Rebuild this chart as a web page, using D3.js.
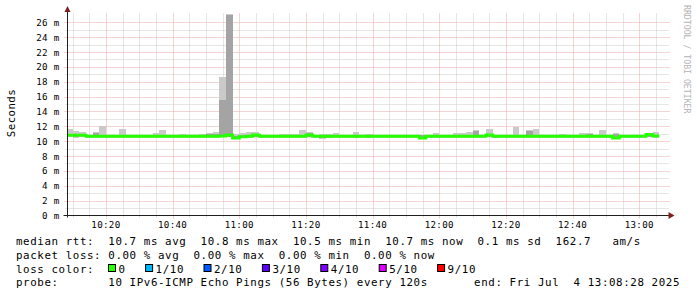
<!DOCTYPE html>
<html>
<head>
<meta charset="utf-8">
<script src="https://cdn.jsdelivr.net/npm/d3@7"></script>
<style>
  body { margin: 0; background: #fff; }
  svg { display: block; }
  text { font-family: "DejaVu Sans Mono", monospace; }
</style>
</head>
<body>
<svg id="chart" width="697" height="297"></svg>
<script>
// time window of the graph and the 120 s steps of the rrd
const tStart = new Date(2025, 6, 4, 10, 8, 28);
const tEnd = new Date(2025, 6, 4, 13, 8, 28);
const firstStep = new Date(2025, 6, 4, 10, 8, 0);
const stepSec = 120;

// median rtt per step (ms)
const median = [
  10.8, 10.8, 10.8, 10.66, 10.66, 10.66, 10.66, 10.66, 10.66, 10.66,
  10.66, 10.66, 10.66, 10.66, 10.66, 10.66, 10.66, 10.66, 10.66, 10.66,
  10.66, 10.66, 10.66, 10.7, 10.84, 10.44, 10.6, 10.66, 10.84, 10.66,
  10.66, 10.66, 10.66, 10.66, 10.66, 10.66, 10.84, 10.66, 10.66, 10.66,
  10.66, 10.66, 10.66, 10.66, 10.66, 10.66, 10.66, 10.66, 10.66, 10.66,
  10.66, 10.66, 10.66, 10.44, 10.66, 10.66, 10.66, 10.66, 10.66, 10.66,
  10.66, 10.66, 10.66, 10.84, 10.66, 10.66, 10.66, 10.66, 10.66, 10.66,
  10.66, 10.66, 10.66, 10.66, 10.66, 10.66, 10.66, 10.66, 10.66, 10.66,
  10.66, 10.66, 10.44, 10.66, 10.66, 10.66, 10.66, 10.9, 10.7
];
// slowest ping of each step
const pingMax = [
  11.6, 11.35, 11.2, 10.9, 11.2, 12.05, 10.8, 10.8, 11.6, 10.85,
  10.8, 10.8, 10.85, 11.1, 11.45, 10.85, 10.8, 10.95, 10.9, 10.9,
  11.0, 11.05, 11.2, 18.7, 27.05, 11.0, 11.1, 11.2, 11.2, 10.85,
  10.8, 10.85, 11.0, 11.0, 11.0, 11.45, 11.3, 10.85, 11.0, 11.0,
  11.05, 10.85, 10.8, 11.2, 10.85, 10.95, 10.9, 10.8, 10.85, 10.9,
  10.85, 10.8, 10.9, 10.9, 10.8, 11.1, 10.85, 10.8, 11.05, 11.05,
  11.3, 11.45, 10.9, 11.7, 10.9, 10.85, 10.8, 11.9, 10.9, 11.45,
  11.6, 10.85, 10.8, 10.85, 11.0, 10.8, 10.85, 11.1, 11.1, 10.9,
  11.45, 10.85, 11.1, 10.8, 10.85, 10.85, 10.9, 11.0, 11.3
];
// second slowest ping
const ping9 = [
  11.0, 10.9, 10.9, 10.75, 11.1, 10.8, 10.75, 10.75, 10.8, 10.75,
  10.75, 10.75, 10.75, 10.8, 10.8, 10.75, 10.75, 10.85, 10.85, 10.85,
  10.9, 10.95, 11.0, 15.5, 27.0, 10.7, 10.8, 10.8, 10.95, 10.75,
  10.75, 10.75, 10.8, 10.8, 10.8, 10.8, 11.1, 10.75, 10.8, 10.8,
  10.8, 10.75, 10.75, 10.9, 10.75, 10.8, 10.75, 10.75, 10.75, 10.8,
  10.75, 10.75, 10.85, 10.85, 10.75, 10.9, 10.75, 10.75, 10.85, 10.85,
  10.9, 11.4, 10.75, 10.95, 10.75, 10.75, 10.75, 10.8, 10.8, 11.4,
  10.85, 10.75, 10.75, 10.75, 10.85, 10.75, 10.75, 10.9, 11.0, 10.8,
  10.85, 10.75, 11.0, 10.75, 10.75, 10.75, 10.8, 10.95, 10.85
];
// second fastest ping
const ping2 = [
  10.65, 10.5, 10.65, 10.55, 10.5, 10.55, 10.55, 10.55, 10.55, 10.55,
  10.55, 10.55, 10.55, 10.55, 10.55, 10.55, 10.55, 10.55, 10.55, 10.55,
  10.55, 10.55, 10.55, 10.6, 10.6, 10.35, 10.5, 10.55, 10.6, 10.55,
  10.55, 10.55, 10.55, 10.55, 10.55, 10.55, 10.6, 10.55, 10.4, 10.45,
  10.55, 10.5, 10.55, 10.45, 10.55, 10.45, 10.55, 10.55, 10.55, 10.55,
  10.55, 10.55, 10.55, 10.35, 10.55, 10.55, 10.55, 10.55, 10.55, 10.55,
  10.55, 10.55, 10.55, 10.6, 10.45, 10.55, 10.55, 10.55, 10.55, 10.5,
  10.55, 10.55, 10.55, 10.55, 10.55, 10.55, 10.55, 10.55, 10.5, 10.55,
  10.55, 10.55, 10.35, 10.55, 10.55, 10.55, 10.55, 10.6, 10.55
];
// fastest ping
const pingMin = [
  10.55, 10.4, 10.55, 10.45, 10.4, 10.45, 10.45, 10.45, 10.45, 10.45,
  10.45, 10.45, 10.45, 10.45, 10.45, 10.45, 10.45, 10.45, 10.45, 10.45,
  10.45, 10.45, 10.45, 10.5, 10.5, 10.3, 10.4, 10.45, 10.5, 10.45,
  10.45, 10.45, 10.45, 10.45, 10.45, 10.45, 10.5, 10.45, 10.35, 10.4,
  10.45, 10.4, 10.45, 10.4, 10.45, 10.4, 10.45, 10.45, 10.45, 10.45,
  10.45, 10.45, 10.45, 10.3, 10.45, 10.45, 10.45, 10.45, 10.45, 10.45,
  10.45, 10.45, 10.45, 10.5, 10.4, 10.45, 10.45, 10.45, 10.45, 10.4,
  10.45, 10.45, 10.45, 10.45, 10.45, 10.45, 10.45, 10.45, 10.4, 10.45,
  10.45, 10.45, 10.3, 10.45, 10.45, 10.45, 10.45, 10.5, 10.45
];

const yTicks = [2, 4, 6, 8, 10, 12, 14, 16, 18, 20, 22, 24, 26];
const lossLabels = ['0', '1/10', '2/10', '3/10', '4/10', '5/10', '9/10'];
const lossColors = ['#26ff00', '#00b8ff', '#0059ff', '#5e00ff', '#7e00ff', '#dd00ff', '#ff0000'];
const legendLines = [
  'median rtt:  10.7 ms avg  10.8 ms max  10.5 ms min  10.7 ms now  0.1 ms sd  162.7   am/s',
  'packet loss: 0.00 % avg  0.00 % max  0.00 % min  0.00 % now',
  'loss color:',
  'probe:       10 IPv6-ICMP Echo Pings (56 Bytes) every 120s'
];
const endLabel = 'end: Fri Jul  4 13:08:28 2025';

const svg = d3.select('#chart');
const pLeft = 67.5, pRight = 667.5, pTop = 13, pBottom = 215.5;

const x = d3.scaleTime().domain([tStart, tEnd]).range([pLeft, pRight]);
const y = d3.scaleLinear().domain([0, 27.25]).range([pBottom, pTop]);

const steps = median.map((m, i) => ({
  t0: new Date(+firstStep + i * stepSec * 1000),
  t1: new Date(+firstStep + (i + 1) * stepSec * 1000),
  med: m, p1: pingMin[i], p2: ping2[i], p9: ping9[i], p10: pingMax[i]
}));

// grid
const grid = svg.append('g');
const minorX = d3.timeMinute.every(5).range(tStart, tEnd);
const majorX = d3.timeMinute.every(20).range(tStart, tEnd);
const isMajorX = d => d.getMinutes() % 20 === 0;

grid.selectAll('.vminor').data(minorX.filter(d => !isMajorX(d))).enter().append('line')
  .attr('x1', d => Math.round(x(d)) + 0.5).attr('x2', d => Math.round(x(d)) + 0.5)
  .attr('y1', pBottom + 2).attr('y2', pTop)
  .attr('stroke', '#cccccc').attr('stroke-dasharray', '1,1');
grid.selectAll('.hminor').data(d3.range(1, 27).filter(d => d % 2)).enter().append('line')
  .attr('y1', d => Math.round(y(d)) + 0.5).attr('y2', d => Math.round(y(d)) + 0.5)
  .attr('x1', pLeft - 2).attr('x2', pRight + 2)
  .attr('stroke', '#cccccc').attr('stroke-dasharray', '1,1');
grid.selectAll('.vmajor').data(majorX).enter().append('line')
  .attr('x1', d => Math.round(x(d)) + 0.5).attr('x2', d => Math.round(x(d)) + 0.5)
  .attr('y1', pBottom + 3).attr('y2', pTop)
  .attr('stroke', '#eaa8a8').attr('stroke-dasharray', '1,1');
grid.selectAll('.hmajor').data(yTicks).enter().append('line')
  .attr('y1', d => Math.round(y(d)) + 0.5).attr('y2', d => Math.round(y(d)) + 0.5)
  .attr('x1', pLeft - 3).attr('x2', pRight + 2)
  .attr('stroke', '#eaa8a8').attr('stroke-dasharray', '1,1');

// smoke and median
svg.append('clipPath').attr('id', 'plotClip')
  .append('rect').attr('x', pLeft).attr('y', 0).attr('width', pRight - pLeft).attr('height', pBottom);
const plot = svg.append('g').attr('clip-path', 'url(#plotClip)');

plot.selectAll('.outer').data(steps).enter().append('rect')
  .attr('x', d => x(d.t0)).attr('width', d => x(d.t1) - x(d.t0))
  .attr('y', d => y(d.p10)).attr('height', d => y(d.p1) - y(d.p10))
  .attr('fill', '#cacaca').attr('shape-rendering', 'crispEdges');
plot.selectAll('.inner').data(steps).enter().append('rect')
  .attr('x', d => x(d.t0)).attr('width', d => x(d.t1) - x(d.t0))
  .attr('y', d => y(d.p9)).attr('height', d => y(d.p2) - y(d.p9))
  .attr('fill', '#a4a4a4').attr('shape-rendering', 'crispEdges');

const medPts = steps.map(d => [d.t0, d.med]);
medPts.push([steps[steps.length - 1].t1, steps[steps.length - 1].med]);
const medLine = d3.line().x(d => x(d[0])).y(d => y(d[1])).curve(d3.curveStepAfter);
plot.append('path').attr('d', medLine(medPts))
  .attr('fill', 'none').attr('stroke', lossColors[0]).attr('stroke-width', 3);

// axes
svg.append('line').attr('x1', pLeft).attr('x2', pLeft).attr('y1', pBottom + 2).attr('y2', pTop - 1)
  .attr('stroke', '#1f1f1f');
svg.append('line').attr('x1', pLeft - 4).attr('x2', pRight + 2).attr('y1', pBottom).attr('y2', pBottom)
  .attr('stroke', '#1f1f1f');
svg.append('path').attr('d', `M${pLeft - 3},${pTop - 1}L${pLeft + 3},${pTop - 1}L${pLeft},${pTop - 7}Z`).attr('fill', '#801f1f');
svg.append('path').attr('d', `M${pRight + 1},${pBottom - 3.5}L${pRight + 1},${pBottom + 3.5}L${pRight + 7},${pBottom}Z`).attr('fill', '#801f1f');

// tick labels
svg.selectAll('.ylab').data([0].concat(yTicks)).enter().append('text')
  .attr('x', 59.5).attr('y', d => y(d) + 3.5)
  .attr('text-anchor', 'end').attr('font-size', 9.2).attr('letter-spacing', 0.3)
  .text(d => `${d} m`);
svg.selectAll('.xlab').data(majorX).enter().append('text')
  .attr('x', d => x(d)).attr('y', 228)
  .attr('text-anchor', 'middle').attr('font-size', 9.2).attr('letter-spacing', 0.3)
  .text(d3.timeFormat('%H:%M'));

svg.append('text').attr('transform', 'translate(14.5,113) rotate(-90)')
  .attr('text-anchor', 'middle').attr('font-size', 10.8).attr('letter-spacing', 0.4)
  .text('Seconds');
svg.append('text').attr('transform', 'translate(683.5,5) rotate(90)')
  .attr('font-size', 8.2).attr('fill', '#b4b4b4')
  .text('RRDTOOL / TOBI OETIKER');

// legend
const legY = [245, 258.8, 272.5, 286.3];
svg.selectAll('.leg').data(legendLines).enter().append('text')
  .attr('x', 16).attr('y', (d, i) => legY[i])
  .attr('font-size', 10.8).attr('letter-spacing', 0.6)
  .style('white-space', 'pre')
  .text(d => d);
svg.append('text').attr('x', 680).attr('y', legY[3])
  .attr('text-anchor', 'end').attr('font-size', 10.8).attr('letter-spacing', 0.6)
  .style('white-space', 'pre').text(endLabel);

let lx = 108.5;
lossLabels.forEach((lab, i) => {
  svg.append('rect').attr('x', lx).attr('y', 264.5).attr('width', 7).attr('height', 7)
    .attr('fill', lossColors[i]).attr('stroke', '#000');
  svg.append('text').attr('x', lx + 10).attr('y', legY[2])
    .attr('font-size', 10.8).attr('letter-spacing', 0.6).text(lab);
  lx += 10 + lab.length * 7.1 + 20;
});
</script>
</body>
</html>
